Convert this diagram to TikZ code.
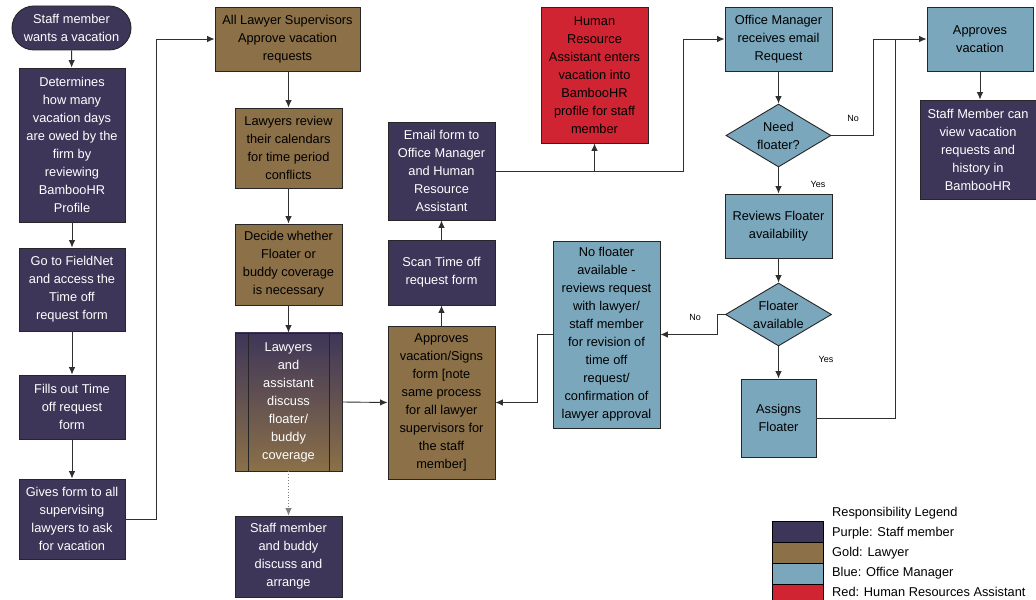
\documentclass[tikz,border=0pt]{standalone}
\usepackage{fontspec}
\setmainfont{Liberation Sans}
\usetikzlibrary{shapes.geometric,shapes.misc,arrows.meta}
\definecolor{cpur}{HTML}{3E3659}
\definecolor{cgold}{HTML}{8B7048}
\definecolor{cblue}{HTML}{7BA7BC}
\definecolor{cred}{HTML}{D02433}
\definecolor{cline}{HTML}{303030}
\begin{document}
\begin{tikzpicture}[x=1bp,y=-1bp,
  every node/.style={font=\fontsize{12.8bp}{18bp}\selectfont, inner sep=0pt, align=center},
  box/.style={draw=black!85, line width=0.9bp, rectangle, minimum width=107bp},
  pur/.style={box, fill=cpur, text=white},
  gold/.style={box, fill=cgold, text=black},
  blu/.style={box, fill=cblue, text=black},
  redb/.style={box, fill=cred, text=black},
  dia/.style={draw=black!85, line width=0.9bp, diamond, fill=cblue, aspect=1.67},
  arr/.style={draw=cline, line width=0.9bp, -{Latex[length=7.5bp,width=6.5bp]}},
  ln/.style={draw=cline, line width=0.9bp},
  lbl/.style={font=\fontsize{9bp}{10bp}\selectfont, text=black},
  leg/.style={font=\fontsize{12.8bp}{14bp}\selectfont, anchor=west, text=black}
]
\useasboundingbox (0,0) rectangle (1036,600);
\fill[white] (0,0) rectangle (1036,600);

% column 1
\node[pur, rounded rectangle, minimum width=119bp, minimum height=44bp] (start) at (71.5,28) {Staff member\\wants a vacation};
\node[pur, minimum width=106bp, minimum height=154bp] (det) at (72,145) {Determines\\how many\\vacation days\\are owed by the\\firm by\\reviewing\\BambooHR\\Profile};
\node[pur, minimum width=106bp, minimum height=83bp] (field) at (72,289.5) {Go to FieldNet\\and access the\\Time off\\request form};
\node[pur, minimum width=106bp, minimum height=64bp] (fills) at (72,407) {Fills out Time\\off request\\form};
\node[pur, minimum width=106bp, minimum height=80bp] (gives) at (72,519) {Gives form to all\\supervising\\lawyers to ask\\for vacation};

% column 2
\node[gold, minimum width=145bp, minimum height=64bp] (allLaw) at (287.5,39) {All Lawyer Supervisors\\Approve vacation\\requests};
\node[gold, minimum height=80bp] (review) at (288.5,148) {Lawyers review\\their calendars\\for time period\\conflicts};
\node[gold, minimum height=81bp] (decide) at (288.5,264.5) {Decide whether\\Floater or\\buddy coverage\\is necessary};
\node[box, minimum height=138bp, top color=cpur, bottom color=cgold, text=white] (discuss) at (288.5,402) {Lawyers\\and\\assistant\\discuss\\floater/\\buddy\\coverage};
\draw[black!85, line width=0.9bp] (248,333) -- (248,471) (329,333) -- (329,471);
\node[pur, minimum height=81bp] (buddy) at (288.5,556.5) {Staff member\\and buddy\\discuss and\\arrange};

% column 3
\node[pur, minimum height=98bp] (email) at (441.5,171) {Email form to\\Office Manager\\and Human\\Resource\\Assistant};
\node[pur, minimum height=65bp] (scan) at (441.5,272.5) {Scan Time off\\request form};
\node[gold, minimum height=153bp] (apsign) at (441.5,402.5) {Approves\\vacation/Signs\\form [note\\same process\\for all lawyer\\supervisors for\\the staff\\member]};

\node[redb, minimum height=136bp] (hr) at (594.5,75) {Human\\Resource\\Assistant enters\\vacation into\\BambooHR\\profile for staff\\member};
\node[blu, minimum height=187bp] (nofl) at (606.5,334.5) {No floater\\available -\\reviews request\\with lawyer/\\staff member\\for revision of\\time off\\request/\\confirmation of\\lawyer approval};

% column 4
\node[blu, minimum height=64bp] (office) at (778.5,39) {Office Manager\\receives email\\Request};
\node[dia, minimum width=105bp, minimum height=63bp] (need) at (778.5,135.5) {Need\\floater?};
\node[blu, minimum height=64bp] (revfl) at (778.5,226) {Reviews Floater\\availability};
\node[dia, minimum width=106bp, minimum height=63bp] (flav) at (778.5,314.5) {Floater\\available};
\node[blu, minimum width=75bp, minimum height=78bp] (assigns) at (778.5,418) {Assigns\\Floater};

% column 5
\node[blu, minimum width=106bp, minimum height=64bp] (appvac) at (980,39) {Approves\\vacation};
\node[pur, minimum width=116bp, minimum height=99bp] (view) at (978,149.5) {Staff Member can\\view vacation\\requests and\\history in\\BambooHR};

% connectors
\draw[arr] (start) -- (det);
\draw[arr] (det) -- (field);
\draw[arr] (field) -- (fills);
\draw[arr] (fills) -- (gives);
\coordinate (c1) at (156,519);
\draw[arr] (gives.east) -- (c1) |- (allLaw.west);
\draw[arr] (review.north |- allLaw.south) -- (review.north);
\draw[arr] (review) -- (decide);
\draw[arr] (decide) -- (discuss);
\draw[arr, dotted, draw=gray] (discuss) -- (buddy);
\draw[arr] (discuss.east) -- (apsign.west);
\draw[arr] (apsign) -- (scan);
\draw[arr] (scan) -- (email);
\coordinate (c2) at (683,171);
\draw[arr] (email.east) -- (c2) |- (office.west);
\draw[arr] (email.east -| hr.south) -- (hr.south);
\draw[arr] (office) -- (need);
\coordinate (c3) at (873,135.5);
\draw[arr] (need.east) -- (c3) |- (appvac.west);
\node[lbl] (no1) at (853,118) {No};
\draw[arr] (need) -- (revfl);
\node[lbl] (yes1) at (818,184) {Yes};
\draw[arr] (revfl) -- (flav);
\coordinate (c4) at (717,314.5);
\coordinate (c5) at (717,334.5);
\draw[arr] (flav.west) -- (c4) -- (c5) -- (nofl.east);
\node[lbl] (no2) at (695,317) {No};
\draw[arr] (flav) -- (assigns);
\node[lbl] (yes2) at (826,359) {Yes};
\coordinate (c6) at (895,418);
\coordinate (c7) at (895,39);
\draw[ln] (assigns.east) -- (c6) -- (c7);
\coordinate (c8) at (537,334.5);
\coordinate (c9) at (537,402.5);
\draw[arr] (nofl.west) -- (c8) -- (c9) -- (apsign.east);
\draw[arr] (appvac.south) -- (appvac.south |- view.north);

% legend
\draw[black, line width=0.9bp, fill=cpur] (772,521) rectangle (823,542);
\draw[black, line width=0.9bp, fill=cgold] (772,542) rectangle (823,563);
\draw[black, line width=0.9bp, fill=cblue] (772,563) rectangle (823,584);
\draw[black, line width=0.9bp, fill=cred] (772,584) rectangle (823,605);
\node[leg] (l0) at (832,513) {Responsibility Legend};
\node[leg] (l1) at (832,533) {Purple: Staff member};
\node[leg] (l2) at (832,553) {Gold: Lawyer};
\node[leg] (l3) at (832,573) {Blue: Office Manager};
\node[leg] (l4) at (832,592) {Red: Human Resources Assistant};
\end{tikzpicture}
\end{document}
